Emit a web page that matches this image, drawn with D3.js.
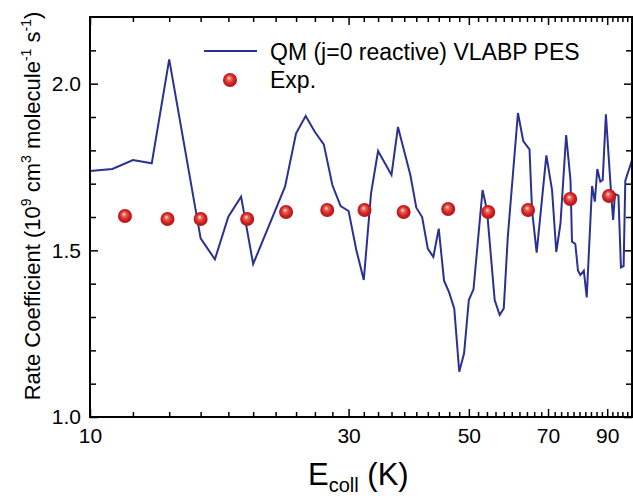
<!DOCTYPE html>
<html>
<head>
<meta charset="utf-8">
<script src="https://cdn.jsdelivr.net/npm/d3@7"></script>
<style>
  body { margin: 0; background: #fff; }
  svg { display: block; font-family: "Liberation Sans", Arial, sans-serif; }
</style>
</head>
<body>
<div id="chart"></div>
<script>
// QM rate coefficient (j=0 reactive, VLABP PES)
const qmEnergy = [10, 11, 12, 13, 14, 16, 17, 18, 19, 20, 22.9, 24, 25, 26, 27, 28, 29, 30, 31, 32,
  33, 34, 36, 37, 39, 40, 41, 42, 43, 44, 45, 46, 47, 48, 49, 50, 51, 53, 54, 55.8, 57, 58, 59,
  61.6, 63, 64.7, 65.4, 66.7, 69.5, 71.2, 72.5, 73.8, 75.6, 77, 77.5, 78.6, 79.5, 80.3, 81.5, 82.5,
  84.4, 85.4, 86.3, 87.4, 88.3, 89.5, 91.5, 92.3, 93, 94.4, 95.4, 96.5, 97.2, 100];
const qmRate = [1.738, 1.744, 1.771, 1.761, 2.073, 1.536, 1.473, 1.601, 1.661, 1.459, 1.691, 1.851,
  1.903, 1.855, 1.818, 1.696, 1.633, 1.618, 1.501, 1.411, 1.671, 1.798, 1.726, 1.870, 1.726, 1.628,
  1.600, 1.505, 1.480, 1.565, 1.409, 1.373, 1.325, 1.136, 1.191, 1.351, 1.383, 1.681, 1.621, 1.351,
  1.306, 1.326, 1.541, 1.912, 1.828, 1.803, 1.620, 1.493, 1.785, 1.681, 1.495, 1.581, 1.846, 1.711,
  1.526, 1.519, 1.439, 1.426, 1.439, 1.359, 1.693, 1.646, 1.744, 1.706, 1.711, 1.908, 1.671, 1.591,
  1.669, 1.664, 1.449, 1.453, 1.709, 1.771];

// experiment
const expEnergy = [11.6, 13.9, 16.0, 19.5, 23.0, 27.4, 32.1, 37.9, 45.8, 54.3, 64.3, 76.9, 90.7];
const expRate = [1.603, 1.594, 1.594, 1.594, 1.615, 1.621, 1.621, 1.615, 1.624, 1.615, 1.621, 1.654, 1.663];

const xMajor = [10, 30, 50, 70, 90];
const xMinor = d3.range(12, 100, 2).filter(v => !xMajor.includes(v));
const yMajor = [1.0, 1.5, 2.0];
const yMinor = [1.1, 1.2, 1.3, 1.4, 1.6, 1.7, 1.8, 1.9, 2.1];

const width = 633, height = 498;
const margin = { top: 17, right: 1, bottom: 81, left: 90 };
const plotW = width - margin.left - margin.right;
const plotH = height - margin.top - margin.bottom;

const svg = d3.select("#chart").append("svg")
  .attr("width", width)
  .attr("height", height);

const defs = svg.append("defs");
const grad = defs.append("radialGradient")
  .attr("id", "ball")
  .attr("cx", "0.5").attr("cy", "0.5").attr("r", "0.55")
  .attr("fx", "0.42").attr("fy", "0.35");
grad.append("stop").attr("offset", "0").attr("stop-color", "#fff4e8");
grad.append("stop").attr("offset", "0.25").attr("stop-color", "#e86a5a");
grad.append("stop").attr("offset", "0.6").attr("stop-color", "#d42424");
grad.append("stop").attr("offset", "1").attr("stop-color", "#a81010");

defs.append("clipPath").attr("id", "plotclip")
  .append("rect").attr("width", plotW).attr("height", plotH);

const g = svg.append("g").attr("transform", `translate(${margin.left},${margin.top})`);

const x = d3.scaleLog().domain([10, 100]).range([0, plotW]);
const y = d3.scaleLinear().domain([1.0, 2.2]).range([plotH, 0]);

// axes
function styleAxis(sel) {
  sel.select(".domain").remove();
  sel.selectAll(".tick line").attr("stroke", "#000").attr("stroke-width", 1.5);
  sel.selectAll(".tick text").attr("fill", "#000").attr("font-size", 21)
    .attr("font-family", "Liberation Sans, Arial, sans-serif");
}

g.append("g").attr("transform", `translate(0,${plotH})`)
  .call(d3.axisBottom(x).tickValues(xMajor).tickFormat(d3.format("d")).tickSize(-8).tickPadding(11))
  .call(styleAxis);
g.append("g").attr("transform", `translate(0,${plotH})`)
  .call(d3.axisBottom(x).tickValues(xMinor).tickFormat("").tickSize(-5))
  .call(styleAxis);
g.append("g")
  .call(d3.axisTop(x).tickValues(xMajor).tickFormat("").tickSize(-8))
  .call(styleAxis);
g.append("g")
  .call(d3.axisTop(x).tickValues(xMinor).tickFormat("").tickSize(-5))
  .call(styleAxis);

g.append("g")
  .call(d3.axisLeft(y).tickValues(yMajor).tickFormat(d3.format(".1f")).tickSize(-8).tickPadding(9))
  .call(styleAxis);
g.append("g")
  .call(d3.axisLeft(y).tickValues(yMinor).tickFormat("").tickSize(-6))
  .call(styleAxis);
g.append("g").attr("transform", `translate(${plotW},0)`)
  .call(d3.axisRight(y).tickValues(yMajor).tickFormat("").tickSize(-8))
  .call(styleAxis);
g.append("g").attr("transform", `translate(${plotW},0)`)
  .call(d3.axisRight(y).tickValues(yMinor).tickFormat("").tickSize(-6))
  .call(styleAxis);

// QM line
const line = d3.line().x((d, i) => x(qmEnergy[i])).y(d => y(d));
g.append("path")
  .datum(qmRate)
  .attr("clip-path", "url(#plotclip)")
  .attr("fill", "none")
  .attr("stroke", "#2b3190")
  .attr("stroke-width", 2)
  .attr("stroke-linejoin", "miter")
  .attr("d", line);

// experiment points
g.selectAll("circle.exp")
  .data(expRate)
  .join("circle")
  .attr("class", "exp")
  .attr("cx", (d, i) => x(expEnergy[i]))
  .attr("cy", d => y(d))
  .attr("r", 7)
  .attr("fill", "url(#ball)");

// frame
g.append("rect")
  .attr("width", plotW).attr("height", plotH)
  .attr("fill", "none").attr("stroke", "#000").attr("stroke-width", 2);

// legend
const legend = svg.append("g");
legend.append("line")
  .attr("x1", 204).attr("x2", 257).attr("y1", 51).attr("y2", 51)
  .attr("stroke", "#2b3190").attr("stroke-width", 2);
legend.append("text").attr("x", 270).attr("y", 60).attr("font-size", 23)
  .text("QM (j=0 reactive) VLABP PES");
legend.append("circle").attr("cx", 230).attr("cy", 80).attr("r", 7).attr("fill", "url(#ball)");
legend.append("text").attr("x", 270).attr("y", 88).attr("font-size", 23).text("Exp.");

// axis titles
const xt = svg.append("text").attr("x", 308).attr("y", 485).attr("font-size", 31);
xt.append("tspan").text("E");
xt.append("tspan").attr("font-size", 20).attr("dy", 7).text("coll");
xt.append("tspan").attr("dy", -7).text(" (K)");

const yt = svg.append("text")
  .attr("transform", "translate(40,206) rotate(-90)")
  .attr("text-anchor", "middle")
  .attr("font-size", 22);
yt.append("tspan").text("Rate Coefficient (10");
yt.append("tspan").attr("font-size", 14).attr("dy", -9).text("9");
yt.append("tspan").attr("dy", 9).text(" cm");
yt.append("tspan").attr("font-size", 14).attr("dy", -9).text("3");
yt.append("tspan").attr("dy", 9).text(" molecule");
yt.append("tspan").attr("font-size", 14).attr("dy", -9).text("-1");
yt.append("tspan").attr("dy", 9).text(" s");
yt.append("tspan").attr("font-size", 14).attr("dy", -9).text("-1");
yt.append("tspan").attr("dy", 9).text(")");
</script>
</body>
</html>
